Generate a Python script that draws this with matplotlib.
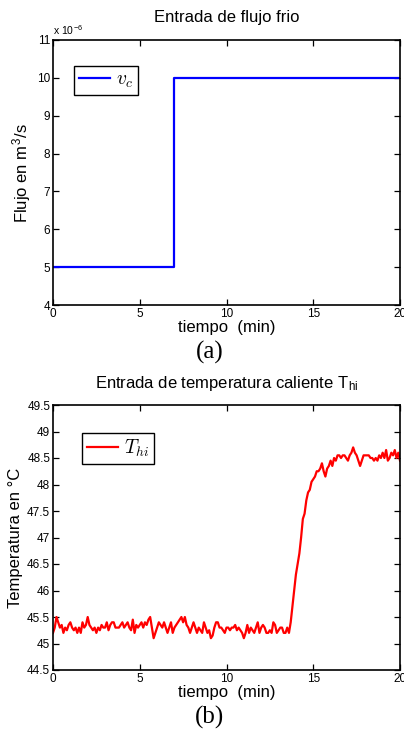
#!/usr/bin/env python3
import numpy as np
import matplotlib
matplotlib.use("Agg")
import matplotlib.pyplot as plt
from matplotlib.ticker import FuncFormatter

plt.rcParams["font.family"] = ["Liberation Sans", "DejaVu Sans"]
plt.rcParams["mathtext.fontset"] = "cm"

# ---- datos (a): flujo frio ----
t_flujo = [0.0, 7.0, 7.0, 20.0]
flujo = [5e-6, 5e-6, 10e-6, 10e-6]

# ---- datos (b): temperatura caliente, muestreo cada 0.1 min ----
t_temp = np.arange(201) * 0.1
temp = [
    45.2, 45.3, 45.5, 45.4, 45.3, 45.35, 45.2, 45.3, 45.25, 45.35,
    45.4, 45.3, 45.25, 45.3, 45.2, 45.3, 45.2, 45.4, 45.3, 45.35,
    45.5, 45.35, 45.3, 45.25, 45.3, 45.2, 45.3, 45.25, 45.35, 45.3,
    45.3, 45.4, 45.25, 45.35, 45.4, 45.4, 45.3, 45.3, 45.3, 45.35,
    45.4, 45.3, 45.35, 45.4, 45.3, 45.25, 45.45, 45.2, 45.35, 45.3,
    45.35, 45.4, 45.3, 45.4, 45.35, 45.45, 45.5, 45.3, 45.1, 45.2,
    45.3, 45.4, 45.35, 45.3, 45.4, 45.3, 45.2, 45.3, 45.4, 45.2,
    45.3, 45.35, 45.4, 45.45, 45.5, 45.4, 45.5, 45.35, 45.3, 45.2,
    45.3, 45.4, 45.3, 45.2, 45.3, 45.25, 45.2, 45.4, 45.3, 45.2,
    45.25, 45.1, 45.15, 45.3, 45.4, 45.4, 45.3, 45.3, 45.25, 45.2,
    45.3, 45.3, 45.25, 45.3, 45.3, 45.35, 45.25, 45.3, 45.25, 45.2,
    45.1, 45.2, 45.35, 45.2, 45.3, 45.25, 45.2, 45.3, 45.4, 45.2,
    45.3, 45.35, 45.3, 45.2, 45.2, 45.25, 45.2, 45.4, 45.35, 45.2,
    45.25, 45.3, 45.3, 45.2, 45.2, 45.3, 45.2, 45.4, 45.7, 46.0,
    46.3, 46.5, 46.7, 47.0, 47.35, 47.45, 47.7, 47.85, 47.9, 48.05,
    48.1, 48.15, 48.25, 48.25, 48.3, 48.4, 48.25, 48.15, 48.3, 48.35,
    48.45, 48.35, 48.5, 48.45, 48.55, 48.55, 48.5, 48.55, 48.55, 48.5,
    48.45, 48.55, 48.6, 48.7, 48.6, 48.55, 48.45, 48.35, 48.45, 48.55,
    48.55, 48.55, 48.55, 48.5, 48.5, 48.45, 48.5, 48.45, 48.55, 48.5,
    48.6, 48.5, 48.65, 48.45, 48.5, 48.6, 48.55, 48.65, 48.5, 48.6,
    48.45,
]

W, H = 404, 738
fig = plt.figure(figsize=(W / 100, H / 100), dpi=100)

def estilo(ax):
    ax.tick_params(direction="in", top=True, right=True, length=4, width=0.9,
                   labelsize=8.5, pad=2)
    for s in ax.spines.values():
        s.set_linewidth(1.2)
    ax.set_xlim(0, 20)
    ax.set_xticks([0, 5, 10, 15, 20])
    ax.set_xlabel("tiempo  (min)", fontsize=12, labelpad=0)

def leyenda(ax, x0, y0):
    leg = ax.legend(loc="upper left", bbox_to_anchor=(x0, y0), borderaxespad=0,
                    fontsize=14, handlelength=1.6, fancybox=False, framealpha=1,
                    edgecolor="black", borderpad=0.25, handletextpad=0.3)
    leg.get_frame().set_linewidth(1.0)

# (a)
ax1 = fig.add_axes([53 / W, 1 - 305 / H, 347 / W, 265 / H])
ax1.plot(t_flujo, flujo, color="#0000ff", lw=1.6, label=r"$v_c$")
ax1.set_ylim(4e-6, 11e-6)
ax1.set_yticks(np.arange(4, 12) * 1e-6)
ax1.yaxis.set_major_formatter(FuncFormatter(lambda v, p: f"{v * 1e6:g}"))
estilo(ax1)
ax1.set_title("Entrada de flujo frio", fontsize=12, pad=13)
ax1.set_ylabel(r"Flujo en m$^\mathregular{3}$/s", fontsize=12, labelpad=3)
ax1.text(0.0, 1.012, r"x 10$^{\mathregular{-6}}$", transform=ax1.transAxes,
         fontsize=7.5, ha="left", va="bottom")
leyenda(ax1, 0.06, 0.902)

# (b)
ax2 = fig.add_axes([53 / W, 1 - 670 / H, 347 / W, 265 / H])
ax2.plot(t_temp, temp, color="#ff0000", lw=1.6, label=r"$T_{hi}$")
ax2.set_ylim(44.5, 49.5)
ax2.set_yticks(np.arange(44.5, 49.6, 0.5))
ax2.yaxis.set_major_formatter(FuncFormatter(lambda v, p: f"{v:g}"))
estilo(ax2)
ax2.set_title(r"Entrada de temperatura caliente T$_\mathregular{hi}$", fontsize=12, pad=12)
ax2.set_ylabel("Temperatura en °C", fontsize=12, labelpad=3)
leyenda(ax2, 0.084, 0.894)

fig.text(210 / W, 1 - 352 / H, "(a)", family="Liberation Serif", fontsize=18,
         ha="center", va="center")
fig.text(210 / W, 1 - 717 / H, "(b)", family="Liberation Serif", fontsize=18,
         ha="center", va="center")

fig.savefig("out.png", dpi=100)
